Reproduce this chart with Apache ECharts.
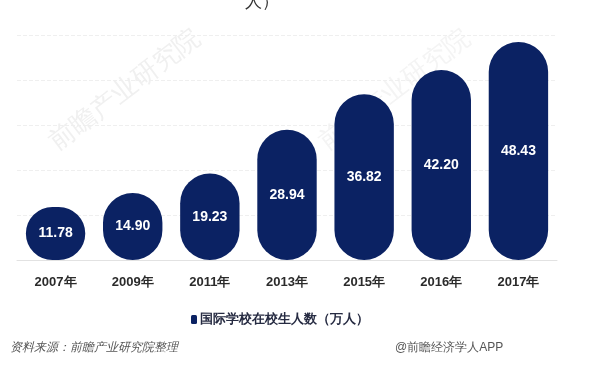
<!DOCTYPE html>
<html>
<head>
<meta charset="utf-8">
<script src="https://cdn.jsdelivr.net/npm/echarts@6/dist/echarts.min.js"></script>
<style>
  html, body { margin: 0; padding: 0; background: #fff; }
  #main { width: 595px; height: 376px; }
</style>
</head>
<body>
<div id="main"></div>
<script>
// 数据
var years = ['2007年', '2009年', '2011年', '2013年', '2015年', '2016年', '2017年'];
var students = [11.78, 14.90, 19.23, 28.94, 36.82, 42.20, 48.43];
var seriesName = '国际学校在校生人数（万人）';

var myChart = echarts.init(document.getElementById('main'));

var option = {
    backgroundColor: '#fff',
    animation: false,
    title: {
        text: '人）',
        left: 240,
        top: -11,
        textStyle: { fontSize: 17, fontWeight: 'normal', color: '#333' }
    },
    legend: {
        data: [seriesName],
        left: 186,
        top: 308,
        itemWidth: 6,
        itemHeight: 9,
        itemGap: 4,
        icon: 'roundRect',
        textStyle: { fontSize: 13, fontWeight: 'bold', color: '#262b42', padding: [0, 0, 0, -2] }
    },
    grid: { left: 17, right: 38, top: 35, bottom: 116 },
    xAxis: {
        type: 'category',
        data: years,
        axisLine: { lineStyle: { color: '#e2e2e2' } },
        axisTick: { show: false },
        axisLabel: { margin: 16, fontSize: 13, fontWeight: 'bold', color: '#2b2b2b', fontFamily: 'Arial' }
    },
    yAxis: {
        type: 'value',
        min: 0,
        max: 50,
        interval: 10,
        axisLabel: { show: false },
        axisLine: { show: false },
        axisTick: { show: false },
        splitLine: { lineStyle: { color: '#efefef', type: 'dashed' } }
    },
    graphic: [
        {
            type: 'text', left: 10, top: 342,
            style: { text: '资料来源：前瞻产业研究院整理', fontSize: 12, fontStyle: 'italic', fill: '#555' }
        },
        {
            type: 'text', left: 395, top: 342,
            style: { text: '@前瞻经济学人APP', fontSize: 12, fill: '#555' }
        },
        {
            type: 'text', x: 45, y: 135, rotation: 0.65, z: -1,
            style: { text: '前瞻产业研究院', fontSize: 26, fill: '#f0f0f0' }
        },
        {
            type: 'text', x: 315, y: 135, rotation: 0.65, z: -1,
            style: { text: '前瞻产业研究院', fontSize: 26, fill: '#f4f4f4' }
        }
    ],
    series: [{
        name: seriesName,
        type: 'bar',
        data: students,
        barWidth: '77%',
        itemStyle: { color: '#0b2263', borderRadius: 30 },
        label: {
            show: true,
            position: 'inside',
            formatter: function (p) { return p.value.toFixed(2); },
            color: '#fff',
            fontSize: 14,
            fontWeight: 'bold',
            fontFamily: 'Arial'
        }
    }]
};

myChart.setOption(option);
</script>
</body>
</html>
